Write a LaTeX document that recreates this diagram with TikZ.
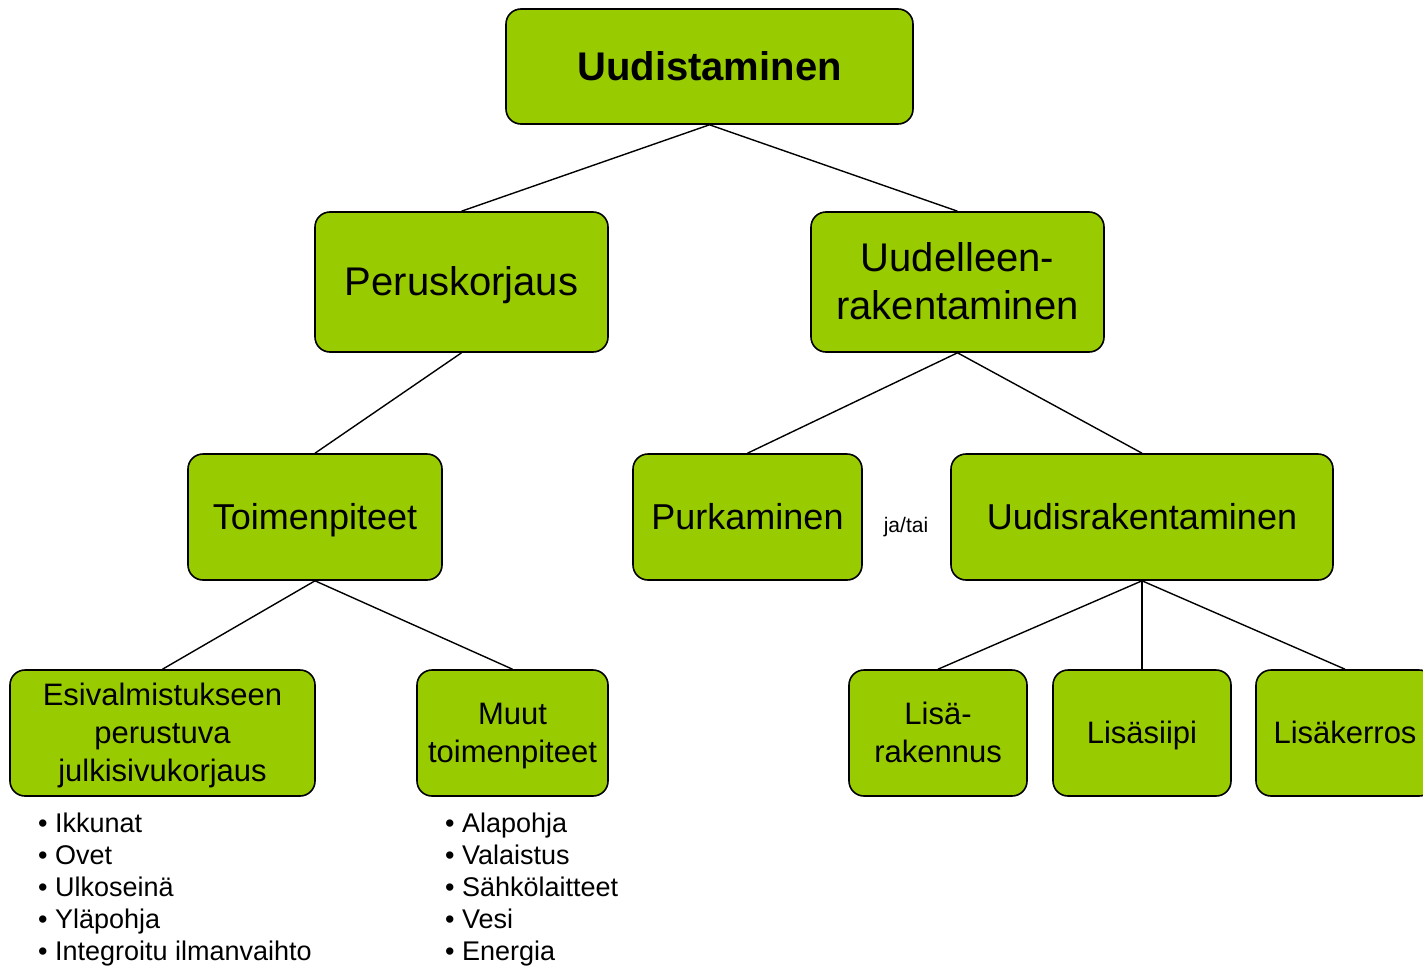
\documentclass[tikz,border=0pt]{standalone}
\usepackage{fontspec}
\setmainfont{Liberation Sans}
\definecolor{boxgreen}{HTML}{99CC00}
\newcommand{\linestrut}{\rule[-0.212em]{0pt}{1.117em}}

\begin{document}
\begin{tikzpicture}[x=1pt,y=-1pt,
  strutted/.style={execute at begin node=\linestrut, execute at end node=\linestrut},
  box/.style={draw, line width=1.6pt, fill=boxgreen, rounded corners=15pt, align=center, inner sep=0pt, strutted},
  link/.style={line width=1.4pt},
  bullets/.style={anchor=north west, inner sep=0pt, align=left, font=\fontsize{27}{32}\selectfont}]
  \useasboundingbox (0,0) rectangle (1423,966);

  \node[box, minimum width=407pt, minimum height=115pt, font=\fontsize{40}{48}\selectfont\bfseries] (uudistaminen) at (709.5,66.5) {Uudistaminen};

  \node[box, minimum width=293pt, minimum height=140pt, font=\fontsize{40}{48}\selectfont] (peruskorjaus) at (461.5,282) {Peruskorjaus};
  \node[box, minimum width=293pt, minimum height=140pt, font=\fontsize{40}{48}\selectfont] (uudelleen) at (957.5,282) {\linestrut Uudelleen-\\rakentaminen};

  \node[box, minimum width=254pt, minimum height=126pt, font=\fontsize{36}{43}\selectfont] (toimenpiteet) at (315,517) {Toimenpiteet};
  \node[box, minimum width=229pt, minimum height=126pt, font=\fontsize{36}{43}\selectfont] (purkaminen) at (747.5,517) {Purkaminen};
  \node[box, minimum width=382pt, minimum height=126pt, font=\fontsize{36}{43}\selectfont] (uudisrak) at (1142,517) {Uudisrakentaminen};
  \node[strutted, font=\fontsize{21}{25}\selectfont] (jatai) at (906,525) {ja/tai};

  \node[box, minimum width=305pt, minimum height=126pt, font=\fontsize{31}{38}\selectfont] (esival) at (162.5,733) {\linestrut Esivalmistukseen\\perustuva\\julkisivukorjaus};
  \node[box, minimum width=191pt, minimum height=126pt, font=\fontsize{31}{38}\selectfont] (muut) at (512.5,733) {\linestrut Muut\\toimenpiteet};

  \node[box, minimum width=178pt, minimum height=126pt, font=\fontsize{31}{38}\selectfont] (lisarak) at (938,733) {\linestrut Lisä-\\rakennus};
  \node[box, minimum width=178pt, minimum height=126pt, font=\fontsize{31}{38}\selectfont] (lisasiipi) at (1142,733) {Lisäsiipi};
  \node[box, minimum width=178pt, minimum height=126pt, font=\fontsize{31}{38}\selectfont] (lisakerros) at (1345,733) {Lisäkerros};

  \node[bullets] (esivlist) at (38,813) {• Ikkunat\\• Ovet\\• Ulkoseinä\\• Yläpohja\\• Integroitu ilmanvaihto};
  \node[bullets] (muutlist) at (445,813) {• Alapohja\\• Valaistus\\• Sähkölaitteet\\• Vesi\\• Energia};

  \draw[link] (uudistaminen.south) -- (peruskorjaus.north);
  \draw[link] (uudistaminen.south) -- (uudelleen.north);
  \draw[link] (peruskorjaus.south) -- (toimenpiteet.north);
  \draw[link] (uudelleen.south) -- (purkaminen.north);
  \draw[link] (uudelleen.south) -- (uudisrak.north);
  \draw[link] (toimenpiteet.south) -- (esival.north);
  \draw[link] (toimenpiteet.south) -- (muut.north);
  \draw[link] (uudisrak.south) -- (lisarak.north);
  \draw[link] (uudisrak.south) -- (lisasiipi.north);
  \draw[link] (uudisrak.south) -- (lisakerros.north);

\end{tikzpicture}
\end{document}
